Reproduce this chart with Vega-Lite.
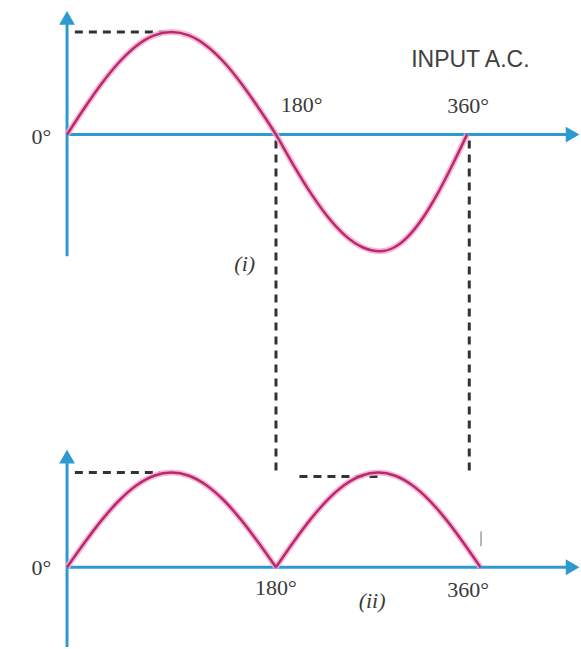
{
  "$schema": "https://vega.github.io/schema/vega-lite/v6.json",
  "width": 581,
  "height": 649,
  "autosize": {"type": "fit", "contains": "padding"},
  "padding": 0,
  "background": "white",
  "config": {"view": {"stroke": null}},
  "datasets": {
    "axes": [
      {"x": 0, "y": -122, "x2": 0, "y2": 112},
      {"x": 0, "y": 0, "x2": 448, "y2": 0},
      {"x": 0, "y": -514, "x2": 0, "y2": -328},
      {"x": 0, "y": -434, "x2": 448, "y2": -434}
    ],
    "arrows": [
      {"x": 0, "y": 117, "shape": "triangle-up"},
      {"x": 452.5, "y": 0, "shape": "triangle-right"},
      {"x": 0, "y": -323, "shape": "triangle-up"},
      {"x": 452.5, "y": -434, "shape": "triangle-right"}
    ],
    "dashes": [
      {"x": 7, "y": 103, "x2": 88, "y2": 103},
      {"x": 187, "y": -6, "x2": 187, "y2": -339},
      {"x": 208, "y": -343, "x2": 280, "y2": -343},
      {"x": 360, "y": -6, "x2": 360, "y2": -338},
      {"x": 7, "y": -339, "x2": 83, "y2": -339}
    ],
    "marks": [
      {"x": 370.5, "y": -398, "x2": 370.5, "y2": -413}
    ],
    "curve": [
      {"seg": "in", "x": 0, "y": 0},
      {"seg": "in", "x": 15.6, "y": 26.7},
      {"seg": "in", "x": 31.2, "y": 51.5},
      {"seg": "in", "x": 46.8, "y": 72.8},
      {"seg": "in", "x": 62.3, "y": 89.2},
      {"seg": "in", "x": 77.9, "y": 99.5},
      {"seg": "in", "x": 93.5, "y": 103},
      {"seg": "in", "x": 109.1, "y": 99.5},
      {"seg": "in", "x": 124.7, "y": 89.2},
      {"seg": "in", "x": 140.3, "y": 72.8},
      {"seg": "in", "x": 155.8, "y": 51.5},
      {"seg": "in", "x": 171.4, "y": 26.7},
      {"seg": "in", "x": 187, "y": 0},
      {"seg": "in", "x": 202.5, "y": -30.3},
      {"seg": "in", "x": 218, "y": -58.5},
      {"seg": "in", "x": 233.5, "y": -82.7},
      {"seg": "in", "x": 249, "y": -101.3},
      {"seg": "in", "x": 264.5, "y": -113},
      {"seg": "in", "x": 280, "y": -117},
      {"seg": "in", "x": 293, "y": -113},
      {"seg": "in", "x": 306, "y": -101.3},
      {"seg": "in", "x": 319, "y": -82.7},
      {"seg": "in", "x": 332, "y": -58.5},
      {"seg": "in", "x": 345, "y": -30.3},
      {"seg": "in", "x": 358, "y": 0},
      {"seg": "out1", "x": 0, "y": -434},
      {"seg": "out1", "x": 15.6, "y": -409.4},
      {"seg": "out1", "x": 31.2, "y": -386.5},
      {"seg": "out1", "x": 46.8, "y": -366.8},
      {"seg": "out1", "x": 62.3, "y": -351.7},
      {"seg": "out1", "x": 77.9, "y": -342.2},
      {"seg": "out1", "x": 93.5, "y": -339},
      {"seg": "out1", "x": 109.1, "y": -342.2},
      {"seg": "out1", "x": 124.7, "y": -351.7},
      {"seg": "out1", "x": 140.3, "y": -366.8},
      {"seg": "out1", "x": 155.8, "y": -386.5},
      {"seg": "out1", "x": 171.4, "y": -409.4},
      {"seg": "out1", "x": 187, "y": -434},
      {"seg": "out2", "x": 187, "y": -434},
      {"seg": "out2", "x": 202.25, "y": -409.4},
      {"seg": "out2", "x": 217.5, "y": -386.5},
      {"seg": "out2", "x": 232.75, "y": -366.8},
      {"seg": "out2", "x": 248, "y": -351.7},
      {"seg": "out2", "x": 263.25, "y": -342.2},
      {"seg": "out2", "x": 278.5, "y": -339},
      {"seg": "out2", "x": 293.75, "y": -342.2},
      {"seg": "out2", "x": 309, "y": -351.7},
      {"seg": "out2", "x": 324.25, "y": -366.8},
      {"seg": "out2", "x": 339.5, "y": -386.5},
      {"seg": "out2", "x": 354.75, "y": -409.4},
      {"seg": "out2", "x": 370, "y": -434}
    ],
    "serif": [
      {"x": -23, "y": -2, "text": "0°"},
      {"x": 210, "y": 30, "text": "180°"},
      {"x": 359, "y": 29, "text": "360°"},
      {"x": -23, "y": -435, "text": "0°"},
      {"x": 187, "y": -455, "text": "180°"},
      {"x": 359, "y": -457, "text": "360°"}
    ],
    "italic": [
      {"x": 159, "y": -130, "text": "(i)"},
      {"x": 273, "y": -468, "text": "(ii)"}
    ],
    "sans": [
      {"x": 361, "y": 75, "text": "INPUT A.C."}
    ]
  },
  "encoding": {
    "x": {"field": "x", "type": "quantitative", "scale": {"domain": [-60, 460], "nice": false, "zero": false}, "axis": null},
    "y": {"field": "y", "type": "quantitative", "scale": {"domain": [-514, 135], "nice": false, "zero": false}, "axis": null}
  },
  "layer": [
    {
      "data": {"name": "dashes"},
      "mark": {"type": "rule", "color": "#333333", "strokeWidth": 3, "strokeDash": [8, 6]},
      "encoding": {"x2": {"field": "x2"}, "y2": {"field": "y2"}}
    },
    {
      "data": {"name": "marks"},
      "mark": {"type": "rule", "color": "#a0a0a0", "strokeWidth": 1.5},
      "encoding": {"x2": {"field": "x2"}, "y2": {"field": "y2"}}
    },
    {
      "data": {"name": "axes"},
      "mark": {"type": "rule", "color": "#2e9ad2", "strokeWidth": 3},
      "encoding": {"x2": {"field": "x2"}, "y2": {"field": "y2"}}
    },
    {
      "data": {"name": "arrows"},
      "mark": {"type": "point", "filled": true, "color": "#2e9ad2", "opacity": 1, "size": 250},
      "encoding": {"shape": {"field": "shape", "type": "nominal", "scale": null, "legend": null}}
    },
    {
      "data": {"name": "curve"},
      "mark": {"type": "line", "color": "#f4a9cf", "strokeWidth": 6, "interpolate": "monotone", "opacity": 0.8},
      "encoding": {"detail": {"field": "seg", "type": "nominal"}}
    },
    {
      "data": {"name": "curve"},
      "mark": {"type": "line", "color": "#b82a6c", "strokeWidth": 2.5, "interpolate": "monotone"},
      "encoding": {"detail": {"field": "seg", "type": "nominal"}}
    },
    {
      "data": {"name": "serif"},
      "mark": {"type": "text", "font": "Liberation Serif", "fontSize": 22, "color": "#3a3a3a", "align": "center", "baseline": "middle"},
      "encoding": {"text": {"field": "text", "type": "nominal"}}
    },
    {
      "data": {"name": "italic"},
      "mark": {"type": "text", "font": "Liberation Serif", "fontStyle": "italic", "fontSize": 22, "color": "#3a3a3a", "align": "center", "baseline": "middle"},
      "encoding": {"text": {"field": "text", "type": "nominal"}}
    },
    {
      "data": {"name": "sans"},
      "mark": {"type": "text", "font": "Liberation Sans", "fontSize": 23, "color": "#404040", "align": "center", "baseline": "middle"},
      "encoding": {"text": {"field": "text", "type": "nominal"}}
    }
  ]
}
